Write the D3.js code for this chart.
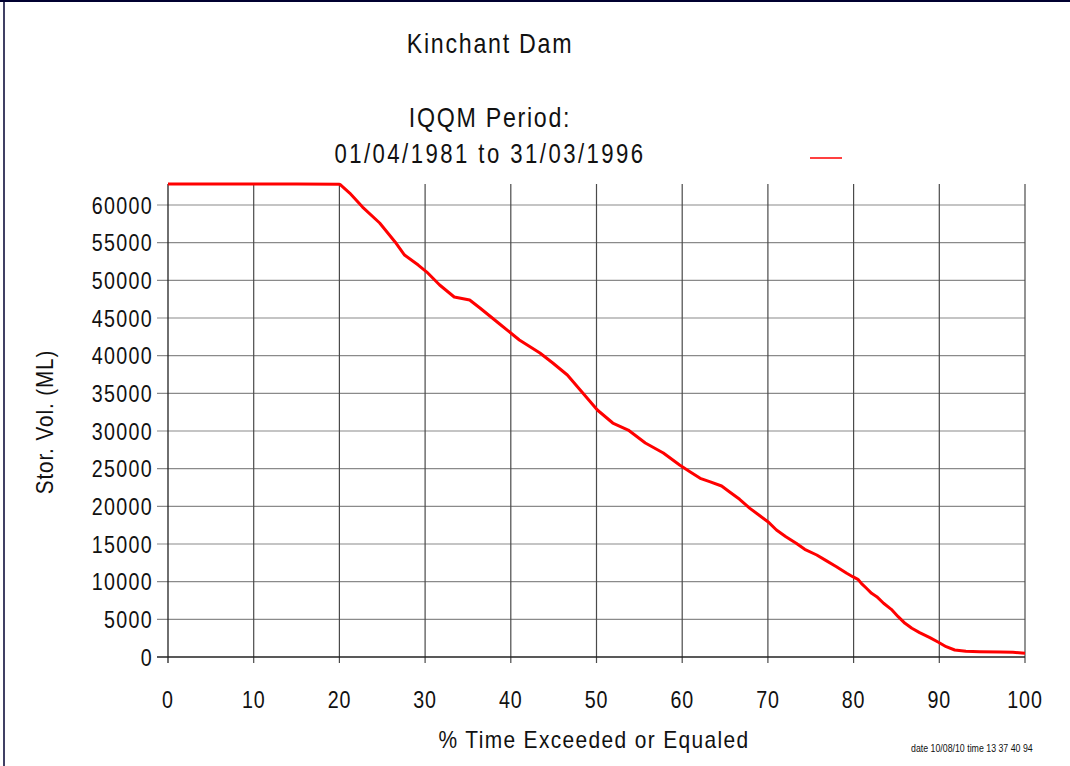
<!DOCTYPE html>
<html>
<head>
<meta charset="utf-8">
<script src="https://cdn.jsdelivr.net/npm/d3@7"></script>
<style>
  html, body { margin: 0; padding: 0; background: #fff; }
  svg { display: block; }
  text { font-family: "Liberation Sans", Arial, sans-serif; fill: #111; }
</style>
</head>
<body>
<svg id="chart" width="1070" height="766"></svg>
<script>
// ---- data ----
const pctExceeded = [0, 5, 10, 15, 20, 20.1, 21.2, 22.7, 24.7, 26.5, 27.6, 29.2, 30.2, 31.7, 33.4, 35.2, 36.4, 38.7,
  41.0, 43.4, 44.9, 46.6, 48.4, 50.1, 51.9, 53.7, 55.7, 57.8, 59.7, 60.9, 62.1, 63.2, 64.6, 65.5, 66.7, 67.9, 69.1,
  70.0, 71.0, 72.1, 73.3, 74.3, 75.7, 76.8, 78.0, 79.2, 79.9, 80.5, 80.9, 81.5, 82.1, 82.7, 83.5, 84.4, 85.2, 86.0,
  86.8, 87.7, 88.9, 89.9, 90.8, 91.8, 93.1, 94.7, 97.1, 98.6, 100];
const storageML = [62780, 62780, 62780, 62780, 62760, 62700, 61590, 59730, 57610, 55090, 53360, 52030, 51100, 49380,
  47790, 47390, 46330, 44200, 42080, 40350, 39030, 37430, 35040, 32790, 31060, 30130, 28410, 27080, 25490, 24600,
  23720, 23270, 22700, 21940, 20930, 19730, 18720, 17960, 16860, 15970, 15090, 14290, 13540, 12790, 11990, 11110,
  10660, 10310, 9780, 9120, 8450, 8010, 7130, 6330, 5350, 4470, 3810, 3230, 2570, 1960, 1370, 930, 750, 710, 660,
  620, 490];
const xTicks = [0, 10, 20, 30, 40, 50, 60, 70, 80, 90, 100];
const yTicks = [0, 5000, 10000, 15000, 20000, 25000, 30000, 35000, 40000, 45000, 50000, 55000, 60000];
const titleLines = ["Kinchant Dam", "IQQM Period:", "01/04/1981 to 31/03/1996"];
const xTitle = "% Time Exceeded or Equaled";
const yTitle = "Stor. Vol. (ML)";
const stampText = "date 10/08/10  time 13 37 40 94";

// ---- layout ----
const svg = d3.select("#chart");
const plotLeft = 168, plotRight = 1025, plotBottom = 657;
const yMax = 62800;
const x = d3.scaleLinear().domain([0, 100]).range([plotLeft, plotRight]);
const y = d3.scaleLinear().domain([0, 60000]).range([plotBottom, 205]);
const plotTop = y(yMax);

// condensed text helper (narrow face emulated by horizontal scaling)
function label(parent, str, tx, ty, size, sx, anchor, ls, rot) {
  return parent.append("text")
    .attr("transform", `translate(${tx},${ty})` + (rot ? ` rotate(${rot})` : "") + ` scale(${sx},1)`)
    .attr("text-anchor", anchor).attr("font-size", size).attr("letter-spacing", ls)
    .text(str);
}

// frame
svg.append("line").attr("x1", 0).attr("x2", 1070).attr("y1", 1).attr("y2", 1)
  .attr("stroke", "#000030").attr("stroke-width", 2);
svg.append("line").attr("x1", 4).attr("x2", 4).attr("y1", 0).attr("y2", 766)
  .attr("stroke", "#000030").attr("stroke-width", 1.5);

// horizontal grid
svg.append("g").selectAll("line").data(yTicks.filter(d => d > 0)).join("line")
  .attr("x1", plotLeft - 11).attr("x2", plotRight)
  .attr("y1", d => y(d)).attr("y2", d => y(d))
  .attr("stroke", "#8a8a8a").attr("stroke-width", 1.2);

// vertical grid
svg.append("g").selectAll("line").data(xTicks.filter(d => d > 0)).join("line")
  .attr("x1", d => x(d)).attr("x2", d => x(d))
  .attr("y1", plotTop).attr("y2", plotBottom + 6)
  .attr("stroke", "#4a4a4a").attr("stroke-width", 1.2);

// axes lines
svg.append("line").attr("x1", plotLeft - 11).attr("x2", plotRight).attr("y1", y(0)).attr("y2", y(0))
  .attr("stroke", "#222").attr("stroke-width", 1.3);
svg.append("line").attr("x1", plotLeft).attr("x2", plotLeft).attr("y1", plotTop).attr("y2", plotBottom + 6)
  .attr("stroke", "#222").attr("stroke-width", 1.3);

// tick labels
const yLab = svg.append("g");
yTicks.forEach(d => label(yLab, d, plotLeft - 15, y(d) + 8.5, 24, 0.82, "end", 1.6));
const xLab = svg.append("g");
xTicks.forEach(d => label(xLab, d, x(d), 708, 24, 0.82, "middle", 1));

// curve
const pts = pctExceeded.map((p, i) => [p, storageML[i]]);
svg.append("path").datum(pts)
  .attr("fill", "none").attr("stroke", "#ff0000").attr("stroke-width", 3)
  .attr("stroke-linejoin", "round")
  .attr("d", d3.line().x(d => x(d[0])).y(d => y(d[1])));

// legend sample
svg.append("line").attr("x1", 810).attr("x2", 842).attr("y1", 158).attr("y2", 158)
  .attr("stroke", "#ff0000").attr("stroke-width", 1.5);

// titles
const titleY = [53, 127, 163];
const titleLS = [2, 2, 3];
const titleSX = [0.86, 0.86, 0.82];
const tg = svg.append("g");
titleLines.forEach((t, i) => label(tg, t, 490, titleY[i], 27, titleSX[i], "middle", titleLS[i]));

// axis titles
label(svg, xTitle, 594, 748, 23, 0.91, "middle", 1.5);
label(svg, yTitle, 53, 422, 23, 0.9, "middle", 1, -90);

// stamp
label(svg, stampText, 911, 752, 10, 0.88, "start", 0).attr("fill", "#333");
</script>
</body>
</html>
